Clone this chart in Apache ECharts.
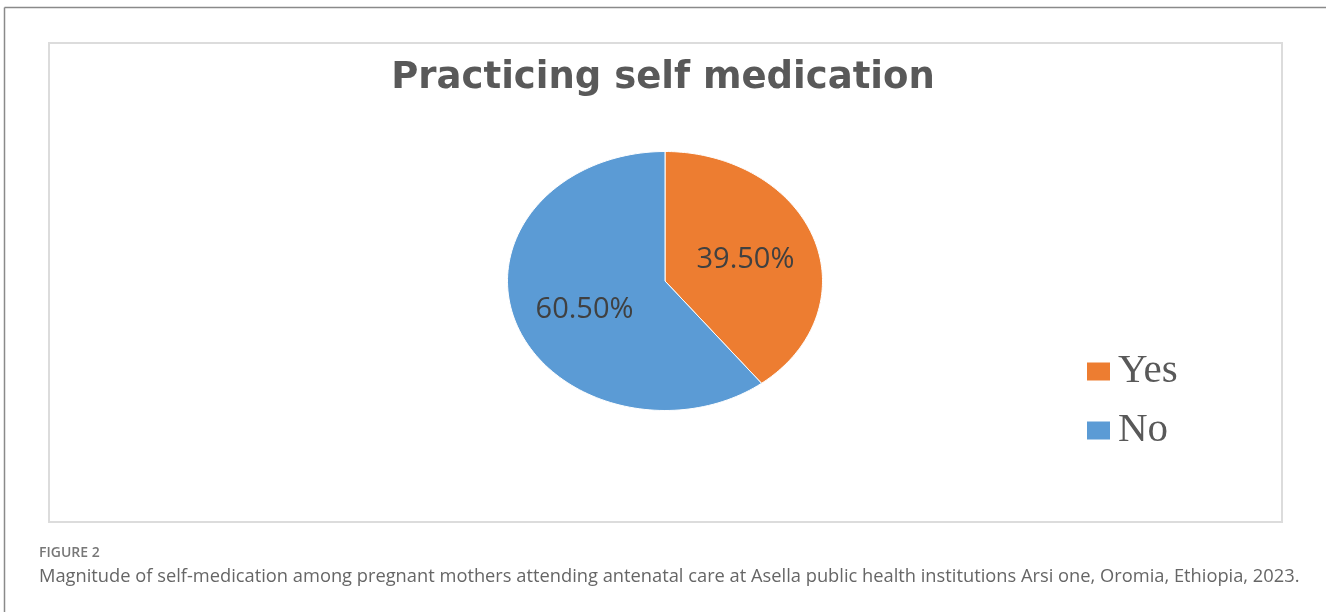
<!DOCTYPE html>
<html>
<head>
<meta charset="utf-8">
<script src="https://cdn.jsdelivr.net/npm/echarts@6/dist/echarts.min.js"></script>
<style>
html,body{margin:0;padding:0;background:#fff;}
#chart{width:1326px;height:612px;}
</style>
</head>
<body>
<div id="chart"></div>
<script>
// ---- data ----
var categories = ['Yes', 'No'];
var values = [39.5, 60.5];
var sliceColors = ['#ED7D31', '#5B9BD5'];
var titleText = 'Practicing self medication';
var figureLabel = 'FIGURE 2';
var captionText = 'Magnitude of self-medication among pregnant mothers attending antenatal care at Asella public health institutions Arsi one, Oromia, Ethiopia, 2023.';

// ---- build slices (angles measured clockwise from top) ----
var total = values.reduce(function (a, b) { return a + b; }, 0);
var acc = 0;
var series = categories.map(function (name, i) {
  var start = acc / total * Math.PI * 2;
  acc += values[i];
  var end = acc / total * Math.PI * 2;
  return {
    name: name,
    type: 'custom',
    coordinateSystem: 'cartesian2d',
    clip: false,
    silent: true,
    itemStyle: { color: sliceColors[i] },
    data: [[start, end, values[i]]],
    renderItem: function (params, api) {
      var s = api.value(0), e = api.value(1), v = api.value(2);
      var pts = [api.coord([0, 0])];
      var n = 120;
      for (var k = 0; k <= n; k++) {
        var a = s + (e - s) * k / n;
        pts.push(api.coord([Math.sin(a), Math.cos(a)]));
      }
      var mid = (s + e) / 2;
      var lr = 0.54;
      var lp = api.coord([Math.sin(mid) * lr, Math.cos(mid) * lr * 1.1]);
      return {
        type: 'group',
        children: [
          {
            type: 'polygon',
            shape: { points: pts },
            style: { fill: sliceColors[params.seriesIndex], stroke: '#ffffff', lineWidth: 1 }
          },
          {
            type: 'text',
            x: lp[0], y: lp[1] + 4,
            style: {
              text: v.toFixed(2) + '%',
              fill: '#404040',
              font: '29px "Open Sans"',
              textAlign: 'center',
              textVerticalAlign: 'middle'
            },
            z2: 10
          }
        ]
      };
    }
  };
});

var chart = echarts.init(document.getElementById('chart'), null, { renderer: 'canvas' });
chart.setOption({
  animation: false,
  backgroundColor: '#ffffff',
  color: sliceColors,
  title: {
    text: titleText,
    left: 'center',
    top: 60,
    padding: 0,
    textStyle: { fontFamily: 'DejaVu Sans', fontWeight: 'bold', fontSize: 37, color: '#595959' }
  },
  legend: {
    data: categories,
    orient: 'vertical',
    left: 1087,
    top: 351,
    padding: 0,
    itemWidth: 23,
    itemHeight: 18,
    itemGap: 18,
    icon: 'rect',
    selectedMode: false,
    textStyle: { fontFamily: 'Liberation Serif', fontSize: 41, color: '#595959', padding: [0, 0, 0, 3] }
  },
  grid: { left: 507.5, top: 151.5, width: 315, height: 259 },
  xAxis: { type: 'value', min: -1, max: 1, show: false },
  yAxis: { type: 'value', min: -1, max: 1, show: false },
  series: series,
  graphic: [
    { type: 'line', shape: { x1: 4.5, y1: 7.5, x2: 1326, y2: 7.5 }, style: { stroke: '#8a8a8a', lineWidth: 1.5 } },
    { type: 'line', shape: { x1: 4.5, y1: 7.5, x2: 4.5, y2: 612 }, style: { stroke: '#8a8a8a', lineWidth: 1.5 } },
    { type: 'rect', shape: { x: 49, y: 43, width: 1233, height: 479 }, style: { fill: 'none', stroke: '#dcdcdc', lineWidth: 2 } },
    { type: 'text', x: 39, y: 553, style: { text: figureLabel, font: '600 14px "Open Sans"', fill: '#777777', textVerticalAlign: 'middle' } },
    { type: 'text', x: 39, y: 577, style: { text: captionText, font: '18.3px "Open Sans"', fill: '#666666', textVerticalAlign: 'middle' } }
  ]
});
</script>
</body>
</html>
